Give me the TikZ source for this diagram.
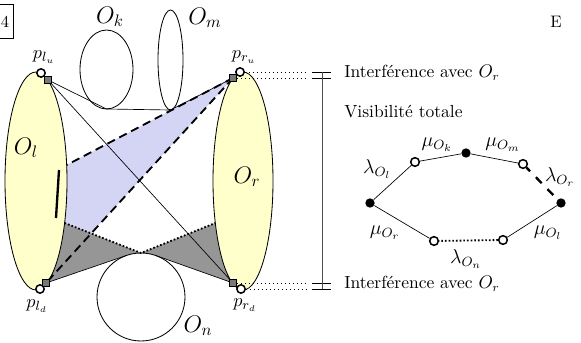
\documentclass[tikz,border=0pt]{standalone}
\usetikzlibrary{calc}
\definecolor{ellfill}{RGB}{255,255,204}
\definecolor{bluefill}{RGB}{212,212,245}
\definecolor{grayfill}{RGB}{150,150,150}
\begin{document}
\begin{tikzpicture}[x=0.6pt,y=-0.6pt,
  thinline/.style={line width=0.4pt},
  dashline/.style={line width=1.1pt,dash pattern=on 5pt off 3pt},
  dotline/.style={line width=1.1pt,dash pattern=on 1pt off 1.2pt},
  ellobj/.style={draw,line width=0.5pt},
  opt/.style={circle,draw,fill=white,line width=0.9pt,inner sep=0pt,minimum size=5pt},
  sqm/.style={rectangle,draw,fill=grayfill!80!black,line width=0.5pt,inner sep=0pt,minimum size=4.4pt},
  fnode/.style={circle,fill=black,inner sep=0pt,minimum size=5.6pt},
  onode/.style={circle,draw,fill=white,line width=0.9pt,inner sep=0pt,minimum size=5.2pt},
  lbl/.style={inner sep=0pt},
  plbl/.style={inner sep=0pt,font=\fontsize{11}{13}\selectfont},
  olbl/.style={inner sep=0pt,font=\Large},
  glbl/.style={inner sep=0pt,font=\large},
  txt/.style={inner sep=0pt,anchor=west,font=\fontsize{10.5}{12.5}\selectfont}]
\useasboundingbox (0,0) rectangle (581,343);

% key points
\coordinate (lu) at (48,80);
\coordinate (ld) at (46,283);
\coordinate (ru) at (233,78);
\coordinate (rd) at (233,283);
\coordinate (L1) at (66.7,165);
\coordinate (L2) at (64.6,223);
\coordinate (R2) at (215.3,223);
\coordinate (apex) at (141,253);
\coordinate (Tl) at (126.7,255.4);
\coordinate (Tr) at (155.7,255.5);
\coordinate (Kb) at (106.5,109);
\coordinate (Mb) at (170.5,110);

% regions
\fill[bluefill] (ru) -- (L1) -- (L2) -- (ld) -- cycle;
\fill[grayfill] (ld) -- (L2) -- (apex) -- (Tl) -- cycle;
\fill[grayfill] (rd) -- (R2) -- (apex) -- (Tr) -- cycle;

% obstacles
\draw[ellobj,fill=white] (141,297) circle[radius=26.4pt];
\draw[ellobj] (106.5,69.5) ellipse[x radius=15.9pt,y radius=23.7pt];
\draw[ellobj] (170.5,60) ellipse[x radius=7.5pt,y radius=30pt];
\draw[ellobj,fill=ellfill] (36,181) ellipse[x radius=18.6pt,y radius=65.4pt];
\draw[ellobj,fill=ellfill] (243,181) ellipse[x radius=18pt,y radius=65.4pt];

% boundary lines
\draw[dotline] (L2) -- (apex) -- (R2);
\draw[thinline] (ld) -- (Tl);
\draw[thinline] (rd) -- (Tr);
\draw[thinline] (lu) -- (Kb) -- (Mb) -- (ru);
\draw[thinline] (lu) -- (rd);
\draw[dashline] (ru) -- (L1);
\draw[dashline] (ru) -- (ld);
\draw[line width=1.4pt] (59,170) -- (56,218);

% markers
\node[opt] (clu) at (41,73) {};
\node[opt] (cld) at (40,289) {};
\node[opt] (cru) at (240,72) {};
\node[opt] (crd) at (241,289) {};
\node[sqm] (slu) at (lu) {};
\node[sqm] (sld) at (ld) {};
\node[sqm] (sru) at (ru) {};
\node[sqm] (srd) at (rd) {};

% labels
\node[plbl] (tlu) at (44,57) {$p_{l_u}$};
\node[plbl] (tru) at (244,57) {$p_{r_u}$};
\node[plbl] (tld) at (37,306) {$p_{l_d}$};
\node[plbl] (trd) at (245,305) {$p_{r_d}$};
\node[olbl] (tol) at (26,148) {$O_l$};
\node[olbl] (tor) at (247,177) {$O_r$};
\node[olbl] (tok) at (110,17) {$O_k$};
\node[olbl] (tom) at (205,18) {$O_m$};
\node[olbl] (ton) at (198,326) {$O_n$};

% interference marks
\coordinate (tu1) at (307,72);
\coordinate (tu2) at (307,78);
\coordinate (td1) at (307,283);
\coordinate (td2) at (307,289);
\draw[thinline,dotted] (cru) -- (tu1);
\draw[thinline,dotted] (sru) -- (tu2);
\draw[thinline,dotted] (srd) -- (td1);
\draw[thinline,dotted] (crd) -- (td2);
\draw[thinline] (312,72) -- (331,72) (312,78) -- (331,78);
\draw[thinline] (312,283) -- (331,283) (312,289) -- (331,289);
\draw[thinline,black!70] (322,72) -- (322,289);

\node[txt] (i1) at (344,73) {Interférence avec $O_r$};
\node[txt] (vt) at (344,112) {Visibilité totale};
\node[txt] (i2) at (344,284) {Interférence avec $O_r$};

% graph
\node[fnode] (g1) at (370,203) {};
\node[onode] (g2) at (415,162) {};
\node[fnode] (g3) at (466,153) {};
\node[onode] (g4) at (523,164) {};
\node[fnode] (g5) at (561,203) {};
\node[onode] (g6) at (503,240) {};
\node[onode] (g7) at (434,241) {};
\draw[thinline] (g1) -- (g2);
\draw[thinline] (g2) -- (g3);
\draw[thinline] (g3) -- (g4);
\draw[line width=1.4pt,dash pattern=on 5pt off 5pt,dash phase=2pt] (g4) -- (g5);
\draw[thinline] (g5) -- (g6);
\draw[dotline] (g6) -- (g7);
\draw[thinline] (g7) -- (g1);

\node[glbl] at (377,169) {$\lambda_{O_l}$};
\node[glbl] at (437,145) {$\mu_{O_k}$};
\node[glbl] at (503,145) {$\mu_{O_m}$};
\node[glbl] at (560,177) {$\lambda_{O_r}$};
\node[glbl] at (385,233) {$\mu_{O_r}$};
\node[glbl] at (548,233) {$\mu_{O_l}$};
\node[glbl] at (466,259) {$\lambda_{O_n}$};

% frame and letters at the edges
\draw[thinline] (-20,4) rectangle (13,38);
\node[lbl] (four) at (5,22) {4};
\node[lbl] (ee) at (556,22) {E};
\end{tikzpicture}
\end{document}
